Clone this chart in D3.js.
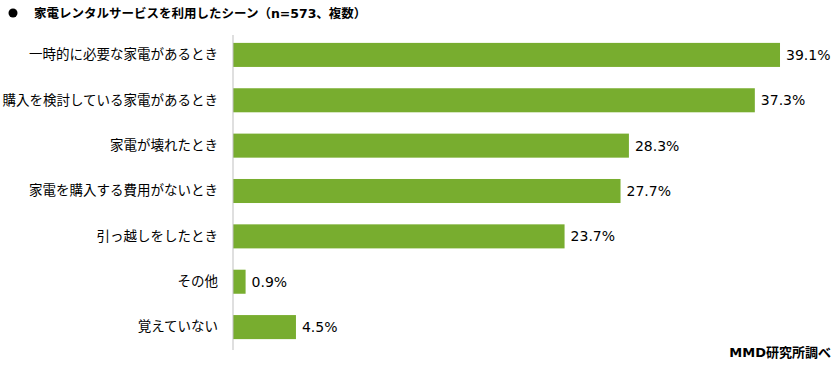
<!DOCTYPE html>
<html>
<head>
<meta charset="utf-8">
<script src="https://cdn.jsdelivr.net/npm/d3@7"></script>
<style>
  body { margin: 0; background: #fff; }
  svg { display: block; font-family: "Noto Sans CJK JP", "Noto Sans", sans-serif; }
</style>
</head>
<body>
<div id="chart"></div>
<script>
const categories = [
  '一時的に必要な家電があるとき',
  '購入を検討している家電があるとき',
  '家電が壊れたとき',
  '家電を購入する費用がないとき',
  '引っ越しをしたとき',
  'その他',
  '覚えていない'
];
const values = [39.1, 37.3, 28.3, 27.7, 23.7, 0.9, 4.5];
const titleText = '家電レンタルサービスを利用したシーン（n=573、複数）';
const sourceText = 'MMD研究所調べ';

const width = 840, height = 370;
const margin = { top: 32, right: 47, bottom: 20, left: 233 };
const latinCjk = '"DejaVu Sans", "Noto Sans CJK JP", sans-serif';

const svg = d3.select('#chart').append('svg')
  .attr('width', width).attr('height', height);

// Title
svg.append('circle').attr('cx', 13).attr('cy', 13).attr('r', 4.5).attr('fill', '#000');
svg.append('text')
  .attr('x', 34).attr('y', 18)
  .style('font-family', latinCjk)
  .style('font-size', '12.5px').style('font-weight', 'bold')
  .text(titleText);

const x = d3.scaleLinear()
  .domain([0, 40])
  .range([margin.left, margin.left + 40 * 13.99]);

const y = d3.scaleBand()
  .domain(categories)
  .range([margin.top, height - margin.bottom])
  .paddingInner(0.47)
  .paddingOuter(0.24);

// Bars
svg.selectAll('rect.bar')
  .data(values)
  .join('rect')
  .attr('class', 'bar')
  .attr('x', x(0))
  .attr('y', (d, i) => y(categories[i]))
  .attr('width', d => x(d) - x(0))
  .attr('height', y.bandwidth())
  .attr('fill', '#78ad2f');

// Value labels
svg.selectAll('text.val')
  .data(values)
  .join('text')
  .attr('class', 'val')
  .attr('x', d => x(d) + 6)
  .attr('y', (d, i) => y(categories[i]) + y.bandwidth() / 2)
  .attr('dy', '0.36em')
  .style('font-family', '"DejaVu Sans", sans-serif')
  .style('font-size', '14px')
  .style('fill', '#000')
  .text(d => d.toFixed(1) + '%');

// Category axis
const axis = svg.append('g')
  .attr('transform', `translate(${margin.left},0)`)
  .call(d3.axisLeft(y).tickSize(0).tickPadding(15));
axis.select('.domain').attr('stroke', '#bfbfbf').attr('d', `M0,35V350`);
axis.selectAll('text')
  .style('font-size', '13.5px')
  .style('font-family', '"Noto Sans CJK JP", sans-serif')
  .style('fill', '#000');

// Source
svg.append('text')
  .attr('x', 831).attr('y', 357)
  .attr('text-anchor', 'end')
  .style('font-family', latinCjk)
  .style('font-size', '13px').style('font-weight', 'bold')
  .text(sourceText);
</script>
</body>
</html>
